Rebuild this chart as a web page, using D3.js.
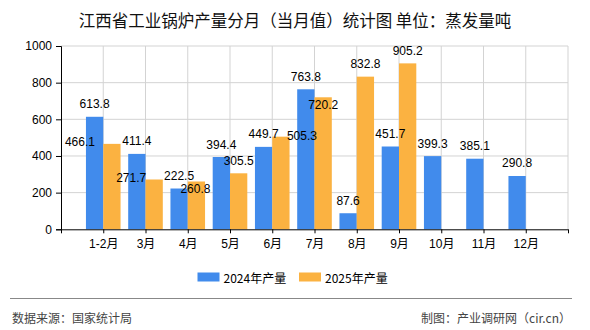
<!DOCTYPE html>
<html><head><meta charset="utf-8">
<script src="https://cdn.jsdelivr.net/npm/d3@7"></script>
<style>
html,body{margin:0;padding:0;background:#fff;}
svg{display:block;}
text{font-family:"Liberation Sans","Noto Sans CJK SC",sans-serif;}
.cjk{font-family:"Noto Sans CJK SC","Liberation Sans",sans-serif;}
</style></head>
<body>
<svg id="c" width="590" height="330"></svg>
<script>
const title = "江西省工业锅炉产量分月（当月值）统计图 单位：蒸发量吨";
const categories = ["1-2月","3月","4月","5月","6月","7月","8月","9月","10月","11月","12月"];
const series2024 = [613.8,411.4,222.5,394.4,449.7,763.8,87.6,451.7,399.3,385.1,290.8];
const series2025 = [466.1,271.7,260.8,305.5,505.3,720.2,832.8,905.2,null,null,null];
const seriesNames = ["2024年产量","2025年产量"];
const yTicks = [0,200,400,600,800,1000];
const source = "数据来源：国家统计局";
const credit = "制图：产业调研网（cir.cn）";

const colors = ["#418BEC","#FBB241"];
const svg = d3.select("#c");
const L = 61, R = 568, T = 46, B = 229.3;

const x = d3.scalePoint().domain(["_s", ...categories, "_e"]).range([L, R]);
const y = d3.scaleLinear().domain([0,1000]).range([B, T]);
const bw = 17.3;

// title
svg.append("text").attr("class","cjk").attr("x",295).attr("y",20).attr("text-anchor","middle")
  .attr("dominant-baseline","central").attr("font-size",16.5).attr("fill","#111").text(title);

// grid
const grid = svg.append("g");
grid.selectAll("line.h").data(yTicks.filter(d=>d>0)).join("line")
  .attr("x1",L).attr("x2",R).attr("y1",d=>y(d)).attr("y2",d=>y(d))
  .attr("stroke","#d3d3d3").attr("stroke-width",1);
grid.selectAll("line.v").data([...categories,"_e"]).join("line")
  .attr("x1",d=>x(d)).attr("x2",d=>x(d)).attr("y1",T).attr("y2",B)
  .attr("stroke","#d3d3d3").attr("stroke-width",1);

// bars
const data = categories.map((c,i)=>({c, a:series2024[i], b:series2025[i]}));
svg.append("g").selectAll("rect").data(data.filter(d=>d.a!=null)).join("rect")
  .attr("x",d=>x(d.c)-bw).attr("width",bw).attr("y",d=>y(d.a)).attr("height",d=>B-y(d.a))
  .attr("fill",colors[0]);
svg.append("g").selectAll("rect").data(data.filter(d=>d.b!=null)).join("rect")
  .attr("x",d=>x(d.c)).attr("width",bw).attr("y",d=>y(d.b)).attr("height",d=>B-y(d.b))
  .attr("fill",colors[1]);

// axes
const yAxis = d3.axisLeft(y).tickValues(yTicks).tickSize(5).tickPadding(4).tickFormat(d3.format("d"));
const gy = svg.append("g").attr("transform",`translate(${L},0)`).call(yAxis);
gy.select(".domain").attr("stroke","#000");
gy.selectAll(".tick line").attr("stroke","#000");
gy.selectAll("text").attr("font-size",12).attr("fill","#000").attr("font-family","Liberation Sans");

const xAxis = d3.axisBottom(x).tickValues(["_s",...categories,"_e"]).tickSize(4).tickPadding(3)
  .tickFormat(d=>d.startsWith("_")?"":d);
const gx = svg.append("g").attr("transform",`translate(0,${B})`).call(xAxis);
gx.select(".domain").attr("stroke","#000").attr("d",`M${L},0.5H${R}`);
gx.selectAll(".tick line").attr("stroke","#000");
gx.selectAll("text").attr("font-size",12).attr("fill","#000").attr("dy","0.95em")
  .attr("font-family","Liberation Sans, Noto Sans CJK SC");

// value labels
const lab = svg.append("g").attr("font-size",12).attr("fill","#000");
lab.selectAll("text.a").data(data.filter(d=>d.a!=null)).join("text")
  .attr("x",d=>x(d.c)-bw/2).attr("y",d=>y(d.a)-12.5)
  .attr("text-anchor","middle").attr("dominant-baseline","central").text(d=>d.a.toFixed(1));
// label collision nudges for the 2025 series (dx, dy), as laid out in the reference
const nudge2025 = [[-32,11],[-23,11],[-1,20],[0,0],[21,12],[0,20],[0,0],[0,0]];
lab.selectAll("text.b").data(data.filter(d=>d.b!=null)).join("text")
  .attr("x",(d,i)=>x(d.c)+bw/2+nudge2025[i][0]).attr("y",(d,i)=>y(d.b)-12.5+nudge2025[i][1])
  .attr("text-anchor","middle").attr("dominant-baseline","central").text(d=>d.b.toFixed(1));

// legend
const leg = svg.append("g");
const legX = [197.5, 299];
seriesNames.forEach((n,i)=>{
  leg.append("rect").attr("x",legX[i]).attr("y",272.5).attr("width",22).attr("height",9).attr("fill",colors[i]);
  leg.append("text").attr("class","cjk").attr("x",legX[i]+26).attr("y",277).attr("dominant-baseline","central")
    .attr("font-size",12).attr("fill","#000").text(n);
});

// footer
svg.append("line").attr("x1",10).attr("x2",572).attr("y1",298.5).attr("y2",298.5).attr("stroke","#888").attr("stroke-width",1);
svg.append("text").attr("class","cjk").attr("x",12).attr("y",317).attr("dominant-baseline","central")
  .attr("font-size",12).attr("fill","#444").text(source);
svg.append("text").attr("class","cjk").attr("x",571).attr("y",317).attr("dominant-baseline","central")
  .attr("text-anchor","end").attr("font-size",12).attr("fill","#444").text(credit);
</script>
</body></html>
